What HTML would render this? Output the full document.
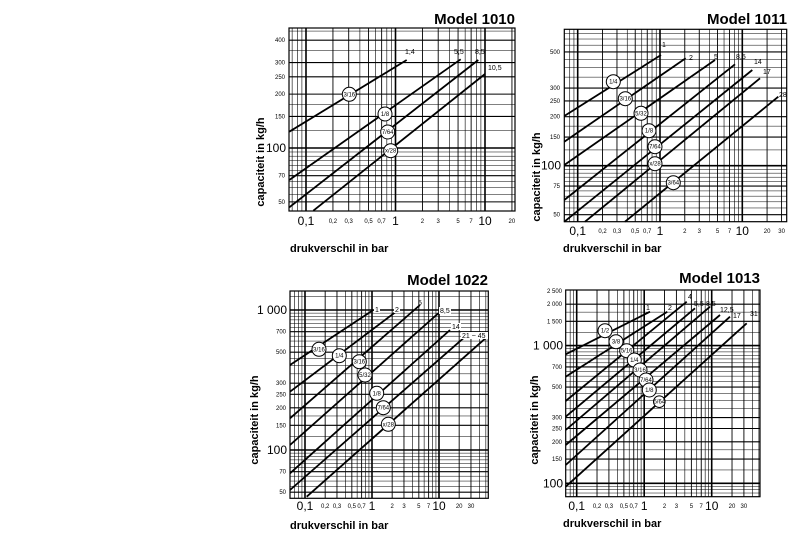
<!DOCTYPE html>
<html><head><meta charset="utf-8"><style>
html,body{margin:0;padding:0;background:#fff;}
svg{display:block;font-family:"Liberation Sans",sans-serif;}
.t{font-weight:bold;font-size:15px;text-anchor:end;}
.s{font-size:6px;}
.l{font-size:12px;}
.ya{text-anchor:end;}
.xa{text-anchor:middle;}
.at{font-size:11px;font-weight:bold;}
.cl{font-size:6px;text-anchor:middle;}
.ll{font-size:7px;}
</style></head><body>
<svg id="s" width="800" height="534" viewBox="0 0 800 534" xmlns="http://www.w3.org/2000/svg">
<g id="grid"></g>
<g id="lines" stroke="#000" stroke-width="1.8" fill="none"></g>
<g id="circ"></g>
<!-- Panel 1 -->
<text class="t" x="515" y="24">Model 1010</text>
<g class="s ya">
<text x="285" y="42">400</text><text x="285" y="64.6">300</text><text x="285" y="78.8">250</text><text x="285" y="96">200</text><text x="285" y="118.5">150</text><text x="285" y="177.7">70</text><text x="285" y="204">50</text></g>
<text class="l ya" x="286" y="152">100</text>
<g class="s xa"><text x="332.9" y="223">0,2</text><text x="348.7" y="223">0,3</text><text x="368.6" y="223">0,5</text><text x="381.6" y="223">0,7</text><text x="422.4" y="223">2</text><text x="438.2" y="223">3</text><text x="458.1" y="223">5</text><text x="471.1" y="223">7</text><text x="511.9" y="223">20</text></g>
<g class="l xa"><text x="306" y="225">0,1</text><text x="395.5" y="225">1</text><text x="485" y="225">10</text></g>
<text class="at" x="290" y="252">drukverschil in bar</text>
<text class="at" transform="translate(264,162) rotate(-90)" text-anchor="middle">capaciteit in kg/h</text>
<g class="ll"><text x="405" y="54">1,4</text><text x="454" y="54">5,5</text><text x="475" y="54">8,5</text><text x="488" y="70">10,5</text></g>
<!-- Panel 2 -->
<text class="t" x="787" y="24">Model 1011</text>
<g class="s ya"><text x="560" y="54">500</text><text x="560" y="90">300</text><text x="560" y="103">250</text><text x="560" y="118.7">200</text><text x="560" y="139">150</text><text x="560" y="188">75</text><text x="560" y="216.7">50</text></g>
<text class="l ya" x="561" y="169.7">100</text>
<g class="s xa"><text x="602.5" y="233">0,2</text><text x="617" y="233">0,3</text><text x="635.2" y="233">0,5</text><text x="647.2" y="233">0,7</text><text x="684.8" y="233">2</text><text x="699.3" y="233">3</text><text x="717.5" y="233">5</text><text x="729.5" y="233">7</text><text x="767.1" y="233">20</text><text x="781.6" y="233">30</text></g>
<g class="l xa"><text x="577.7" y="235">0,1</text><text x="660" y="235">1</text><text x="742.3" y="235">10</text></g>
<text class="at" x="563" y="252">drukverschil in bar</text>
<text class="at" transform="translate(540,177) rotate(-90)" text-anchor="middle">capaciteit in kg/h</text>
<g class="ll"><text x="662" y="47">1</text><text x="689" y="60">2</text><text x="714" y="59">5</text><text x="736" y="59">8,5</text><text x="754" y="64">14</text><text x="763" y="74">17</text><text x="779" y="97">28</text></g>
<!-- Panel 3 -->
<text class="t" x="488" y="285">Model 1022</text>
<g class="s ya"><text x="286" y="333.7">700</text><text x="286" y="354">500</text><text x="286" y="385.2">300</text><text x="286" y="396.3">250</text><text x="286" y="410">200</text><text x="286" y="427.3">150</text><text x="286" y="473.7">70</text><text x="286" y="494">50</text></g>
<g class="l ya"><text x="287" y="314">1 000</text><text x="287" y="454">100</text></g>
<g class="s xa"><text x="325.2" y="508">0,2</text><text x="337" y="508">0,3</text><text x="351.8" y="508">0,5</text><text x="361.6" y="508">0,7</text><text x="392.2" y="508">2</text><text x="404" y="508">3</text><text x="418.8" y="508">5</text><text x="428.6" y="508">7</text><text x="459.2" y="508">20</text><text x="471" y="508">30</text></g>
<g class="l xa"><text x="305" y="510">0,1</text><text x="372" y="510">1</text><text x="439" y="510">10</text></g>
<text class="at" x="290" y="529">drukverschil in bar</text>
<text class="at" transform="translate(258,420) rotate(-90)" text-anchor="middle">capaciteit in kg/h</text>
<g class="ll"><rect x="374" y="306" width="6" height="7" fill="#fff"/><text x="375" y="312">1</text><rect x="394" y="306" width="6" height="7" fill="#fff"/><text x="395" y="312">2</text><text x="418" y="305">5</text><rect x="439" y="307" width="12" height="7" fill="#fff"/><text x="440" y="313">8,5</text><rect x="451" y="323" width="10" height="7" fill="#fff"/><text x="452" y="329">14</text><rect x="461" y="332" width="27" height="7" fill="#fff"/><text x="462" y="338">21 ~ 45</text></g>
<!-- Panel 4 -->
<text class="t" x="760" y="283">Model 1013</text>
<g class="s ya"><text x="562" y="292.8">2 500</text><text x="562" y="306.2">2 000</text><text x="562" y="323.4">1 500</text><text x="562" y="369">700</text><text x="562" y="389">500</text><text x="562" y="419.6">300</text><text x="562" y="430.5">250</text><text x="562" y="444">200</text><text x="562" y="461">150</text></g>
<g class="l ya"><text x="563" y="349.6">1 000</text><text x="563" y="487.3">100</text></g>
<g class="s xa"><text x="597" y="508">0,2</text><text x="608.9" y="508">0,3</text><text x="623.9" y="508">0,5</text><text x="633.7" y="508">0,7</text><text x="664.5" y="508">2</text><text x="676.4" y="508">3</text><text x="691.4" y="508">5</text><text x="701.2" y="508">7</text><text x="732" y="508">20</text><text x="743.9" y="508">30</text></g>
<g class="l xa"><text x="576.7" y="510">0,1</text><text x="644.2" y="510">1</text><text x="711.7" y="510">10</text></g>
<text class="at" x="563" y="527">drukverschil in bar</text>
<text class="at" transform="translate(538,420) rotate(-90)" text-anchor="middle">capaciteit in kg/h</text>
<g class="ll"><text x="646" y="310">1</text><text x="668" y="310">2</text><text x="688" y="299">4</text><text x="694" y="306">5,5</text><text x="706" y="306">8,5</text><text x="720" y="312">12,5</text><text x="733" y="318">17</text><text x="750" y="316">31</text></g>
<g class="cl" id="ctext">
<text x="349.3" y="96.3">3/16</text><text x="385" y="116">1/8</text><text x="387.7" y="134">7/64</text><text x="390.7" y="152.7">x/28</text>
<text x="613.3" y="83.7">1/4</text><text x="625.3" y="100.7">3/16</text><text x="641" y="115.3">5/32</text><text x="649" y="132.7">1/8</text><text x="655" y="148.7">7/64</text><text x="655" y="165.7">x/28</text><text x="673.3" y="184.7">3/64</text>
<text x="319" y="351.3">3/16</text><text x="339.3" y="357.7">1/4</text><text x="359.3" y="363.7">3/16</text><text x="365" y="377">5/32</text><text x="376.7" y="395.3">1/8</text><text x="383.3" y="409.7">7/64</text><text x="388.3" y="426.3">x/28</text>
<text x="605" y="332.7">1/2</text><text x="616" y="343.7">3/8</text><text x="626.7" y="352.7">5/16</text><text x="634.3" y="362">1/4</text><text x="640" y="372">3/16</text><text x="646" y="382">7/64</text><text x="649.3" y="392">1/8</text><text x="659.3" y="403.7">5/64</text>
</g>
</svg>
<script>
var NS="http://www.w3.org/2000/svg";
function el(p,n,a){var e=document.createElementNS(NS,n);for(var k in a)e.setAttribute(k,a[k]);p.appendChild(e);return e;}
var G=document.getElementById('grid'),L=document.getElementById('lines'),C=document.getElementById('circ');
var P=[
{f:[289,28,515,211],x0:306,dx:89.5,y0:148,dy:179,yl:[400,300,250,200,150,100,70,50],xl:[0.2,0.3,0.5,0.7,2,3,5,7,20]},
{f:[564.3,29.3,786.7,221.7],x0:577.7,dx:82.3,y0:165.7,dy:162.8,yl:[500,300,250,200,150,100,75,50],xl:[0.2,0.3,0.5,0.7,2,3,5,7,20,30]},
{f:[290,291,488.3,498.3],x0:305,dx:67,y0:450,dy:140,yl:[1000,700,500,300,250,200,150,100,70,50],xl:[0.2,0.3,0.5,0.7,2,3,5,7,20,30]},
{f:[565.7,290,760,496.7],x0:576.7,dx:67.5,y0:483.3,dy:137.7,yl:[2500,2000,1500,1000,700,500,300,250,200,150,100],xl:[0.2,0.3,0.5,0.7,2,3,5,7,20,30]}];
P.forEach(function(p){
 var f=p.f;
 for(var d=0.01;d<1000;d*=10){for(var k=1;k<10;k++){var v=d*k,x=p.x0+p.dx*Math.log10(v/0.1);
  if(x>f[0]+1&&x<f[2]-1){var dec=(k==1),lab=p.xl.some(function(q){return Math.abs(q-v)<1e-6;});
   el(G,'line',{x1:x,x2:x,y1:f[1],y2:f[3],stroke:'#000','stroke-width':dec?1.6:(lab?0.9:0.6)});}}}
 var hv=[];for(var d2=1;d2<100000;d2*=10){for(var k2=10;k2<100;k2+=(k2<20?2.5:5))hv.push(d2*k2/10);}
 hv.forEach(function(v){var y=p.y0-p.dy*Math.log10(v/100);
  if(y>f[1]+1&&y<f[3]-1){var lab=p.yl.indexOf(Math.round(v))>=0,big=(v==100||v==1000);
   el(G,'line',{x1:f[0],x2:f[2],y1:y,y2:y,stroke:'#000','stroke-width':big?1.6:(lab?1.1:0.5)});}});
 el(G,'rect',{x:f[0],y:f[1],width:f[2]-f[0],height:f[3]-f[1],fill:'none',stroke:'#000','stroke-width':1.2});
});
var S=[
[289.3,131.7,406.7,60],[289.3,180,460.7,59.3],[289.3,207.3,478.3,60],[313.3,210.7,485,74],
[564.3,116,661,55],[564.3,141.7,685.7,58.3],[564.3,165,715,60],[564.3,200,735,64.3],[564.3,221.7,752.3,70],[585,221.7,760,78.3],[625,221.7,778.3,96.7],
[290,365,373.3,310],[290,391.7,398.3,310],[290,418.3,420,305],[290,445,438.3,313.3],[290,473.3,450,330],[290,490,463.3,338.3],[306.7,496.7,487.3,336.7],
[565.7,354.3,650,311.7],[565.7,376.7,667.3,311.7],[565.7,401,686.7,301.7],[565.7,416.7,695,308.3],[565.7,430,710,306.7],[565.7,445,720,315],[565.7,465,730,316.7],[565.7,486.7,746.7,323.3]];
S.forEach(function(s){el(L,'line',{x1:s[0],y1:s[1],x2:s[2],y2:s[3]});});
var ct=document.getElementById('ctext').children;
for(var i=0;i<ct.length;i++){var t=ct[i],x=+t.getAttribute('x'),y=+t.getAttribute('y')-2;
 el(C,'circle',{cx:x,cy:y,r:i>=25?5.8:7,fill:'#fff',stroke:'#000','stroke-width':1});}
</script>
</body></html>
